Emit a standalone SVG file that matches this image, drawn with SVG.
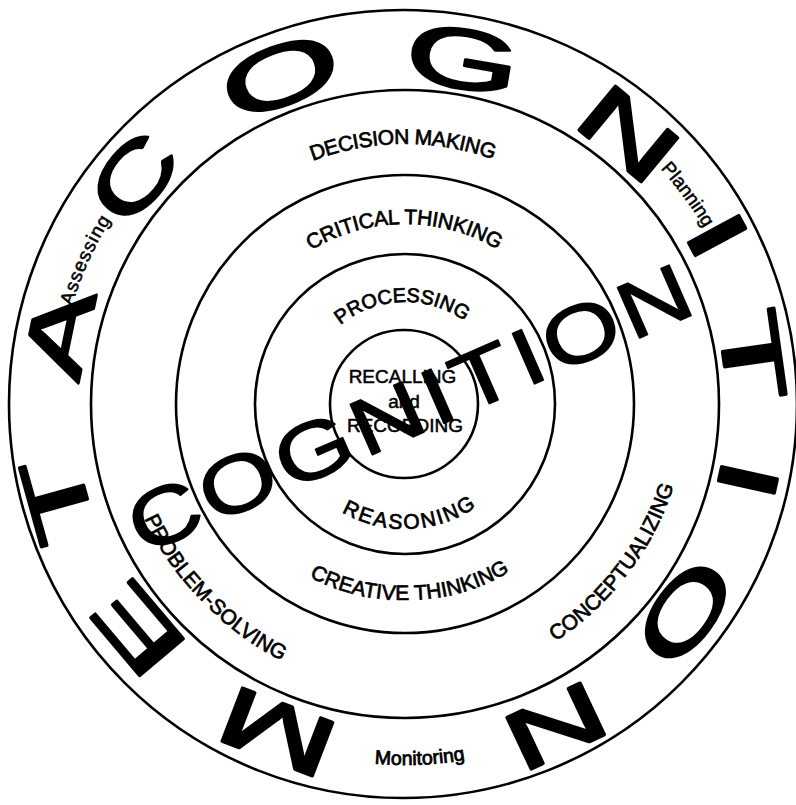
<svg xmlns="http://www.w3.org/2000/svg" width="796" height="805" viewBox="0 0 796 805">
<style>
.ring{fill:none;stroke:#000;stroke-width:2.6}
.big{font-family:"Liberation Sans",Arial,sans-serif;font-size:84px;fill:#000;stroke:#000;stroke-width:2.6;stroke-linejoin:round;text-anchor:middle}
.mid{font-family:"Liberation Sans",Arial,sans-serif;font-size:80px;fill:#000;stroke:#000;stroke-width:1.6;stroke-linejoin:round;text-anchor:middle}
.lbl{font-family:"Liberation Sans",Arial,sans-serif;font-size:21px;fill:#000;stroke:#000;stroke-width:0.7;text-anchor:middle}
.sm{font-family:"Liberation Sans",Arial,sans-serif;font-size:19px;fill:#000;stroke:#000;stroke-width:0.5;text-anchor:middle}
</style>
<defs>
<path id="pDec" d="M407.3,664 A260,260 0 1 1 402.7,144 A260,260 0 1 1 407.3,664"/>
<path id="pCrit" d="M405.8,584 A180,180 0 1 1 404.2,224 A180,180 0 1 1 405.8,584"/>
<path id="pProc" d="M408.2,505.95 A102,102 0 1 1 401.8,302.05 A102,102 0 1 1 408.2,505.95"/>
<path id="pReas" d="M399.3,279.1 A125,125 0 1 0 410.7,528.9 A125,125 0 1 0 399.3,279.1"/>
<path id="pCrea" d="M399.7,208.1 A196,196 0 1 0 410.3,599.9 A196,196 0 1 0 399.7,208.1"/>
<path id="pProb" d="M608.4,207.3 A283,283 0 1 0 201.6,600.7 A283,283 0 1 0 608.4,207.3"/>
<path id="pConc" d="M182.3,234.3 A280,280 0 1 0 627.7,573.7 A280,280 0 1 0 182.3,234.3"/>
<path id="pAss" d="M721.3,546.8 A347,347 0 1 1 88.7,261.2 A347,347 0 1 1 721.3,546.8"/>
<path id="pPlan" d="M126.3,610.7 A347,347 0 1 1 683.7,197.3 A347,347 0 1 1 126.3,610.7"/>
<path id="pMon" d="M389.9,43.3 A361,361 0 1 0 420.1,764.7 A361,361 0 1 0 389.9,43.3"/>
</defs>
<rect width="796" height="805" fill="#fff"/>
<g id="rings">
<circle class="ring" cx="403" cy="404" r="394"/>
<circle class="ring" cx="405" cy="404" r="314"/>
<circle class="ring" cx="405" cy="404" r="229"/>
<circle class="ring" cx="405" cy="404" r="150"/>
<circle class="ring" cx="404" cy="404" r="74"/>
</g>
<g id="metacognition">
<text class="big" transform="translate(277,733) rotate(201) scale(1.7,1)" y="30">M</text>
<text class="big" transform="translate(137,630) rotate(229.8) scale(1.7,1)" y="30">E</text>
<text class="big" transform="translate(57,500) rotate(254.5) scale(1.7,1)" y="30">T</text>
<text class="big" transform="translate(58,333) rotate(281.6) scale(1.6,1)" y="30">A</text>
<text class="big" transform="translate(133,177) rotate(310) scale(1.5,1)" y="30">C</text>
<text class="big" transform="translate(280,75) rotate(339.4) scale(1.85,1)" y="30">O</text>
<text class="big" transform="translate(463,58) rotate(9.6) scale(1.75,1)" y="30">G</text>
<text class="big" transform="translate(629,133) rotate(39.7) scale(1.7,1)" y="30">N</text>
<text class="big" transform="translate(718,235) rotate(61.7) scale(1.7,1)" y="30">I</text>
<text class="big" transform="translate(753,355) rotate(82) scale(1.8,1)" y="30">T</text>
<text class="big" transform="translate(749,480) rotate(102.4) scale(1.7,1)" y="30">I</text>
<text class="big" transform="translate(686,613) rotate(126.5) scale(1.7,1)" y="30">O</text>
<text class="big" transform="translate(556,727) rotate(154.8) scale(1.7,1)" y="30">N</text>
</g>
<g id="labels">
<text class="lbl" letter-spacing="-0.4"><textPath href="#pDec" startOffset="50%">DECISION MAKING</textPath></text>
<text class="lbl" letter-spacing="-0.3"><textPath href="#pCrit" startOffset="50%">CRITICAL THINKING</textPath></text>
<text class="lbl" style="font-size:20px"><textPath href="#pProc" startOffset="50%">PROCESSING</textPath></text>
<text class="lbl" letter-spacing="2"><textPath href="#pReas" startOffset="50%">REASONING</textPath></text>
<text class="lbl"><textPath href="#pCrea" startOffset="50%">CREATIVE THINKING</textPath></text>
<text class="lbl"><textPath href="#pProb" startOffset="50%">PROBLEM-SOLVING</textPath></text>
<text class="lbl"><textPath href="#pConc" startOffset="50%">CONCEPTUALIZING</textPath></text>
<text class="sm" letter-spacing="1"><textPath href="#pAss" startOffset="50%">Assessing</textPath></text>
<text class="sm"><textPath href="#pPlan" startOffset="50%">Planning</textPath></text>
<text class="sm" style="font-size:19.5px;stroke-width:0.8"><textPath href="#pMon" startOffset="50%">Monitoring</textPath></text>
<text class="sm" x="402.5" y="383">RECALLING</text>
<text class="sm" x="404" y="408">and</text>
<text class="sm" x="405" y="432">RECORDING</text>
</g>
<g id="cognition">
<text class="mid" transform="translate(409,407.5) rotate(-23.6) scale(1.25,1)" x="2" y="28.6" letter-spacing="4">COGNITION</text>
</g>
</svg>
